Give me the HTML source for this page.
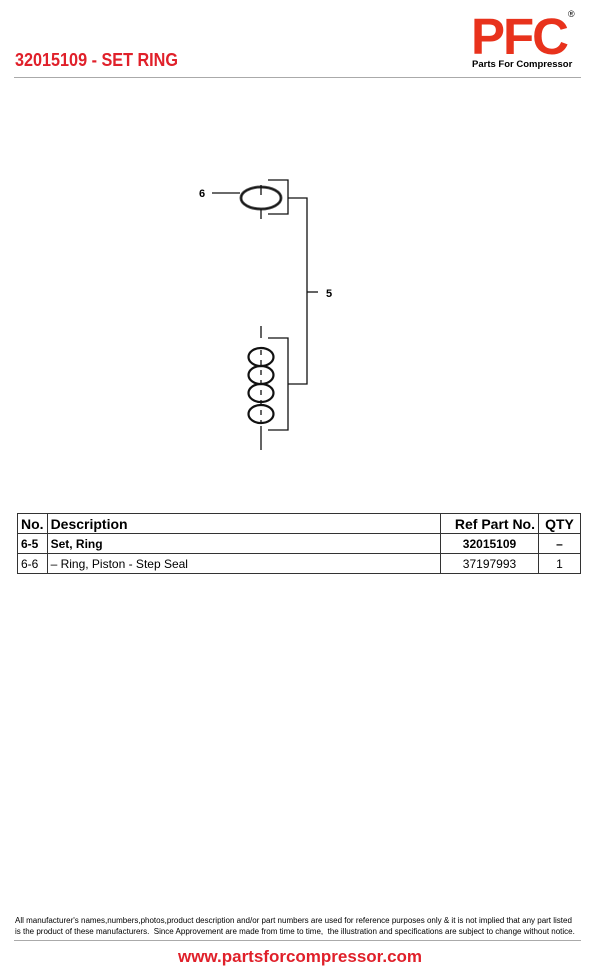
<!DOCTYPE html>
<html><head><style>
body{margin:0;width:600px;height:973px;background:#fff;position:relative;font-family:"Liberation Sans",sans-serif;overflow:hidden}
.a{position:absolute}
table{position:absolute;left:17px;top:513px;width:564px;border-collapse:collapse;font-size:12px}
td{border:1px solid #333;height:19px;padding:0 3px;line-height:18px}
</style></head><body>
<div class="a" style="left:15px;top:50px;color:#e0202a;font-weight:bold;font-size:18px;transform:scaleX(0.9);transform-origin:left">32015109 - SET RING</div>
<div class="a" style="left:471px;top:14px;color:#e8321c;font-weight:900;font-size:51px;line-height:46px;letter-spacing:-2px;">PFC</div>
<div class="a" style="left:568px;top:9px;font-size:9px">®</div>
<div class="a" style="left:472px;top:59px;font-size:9.5px;font-weight:bold">Parts For Compressor</div>
<div class="a" style="left:14px;top:77px;width:567px;height:1px;background:#aaa"></div>
<svg class="a" style="left:0;top:0" width="600" height="500">
<g fill="none" stroke="#111" stroke-width="1.3">
<ellipse cx="261" cy="198" rx="20" ry="11" stroke-width="3" stroke="#555"/>
<ellipse cx="261" cy="198" rx="20" ry="11"/>
<line x1="212" y1="193" x2="240" y2="193"/>
<line x1="261" y1="185" x2="261" y2="195"/><line x1="261" y1="209" x2="261" y2="219"/>
<polyline points="268,180 288,180 288,214 268,214"/>
<polyline points="288,198 307,198 307,384 288,384"/>
<line x1="307" y1="292" x2="318" y2="292"/>
<line x1="261" y1="326" x2="261" y2="338"/><line x1="261" y1="426" x2="261" y2="450"/>
<polyline points="268,338 288,338 288,430 268,430"/>
<g stroke-width="2.2">
<ellipse cx="261" cy="357" rx="12.5" ry="9"/><ellipse cx="261" cy="375" rx="12.5" ry="9"/>
<ellipse cx="261" cy="393" rx="12.5" ry="9"/><ellipse cx="261" cy="414" rx="12.5" ry="9"/>
</g>
<line x1="261" y1="350" x2="261" y2="424" stroke-dasharray="5,5"/>
</g>
<text x="199" y="197" font-size="11" font-weight="bold" font-family="Liberation Sans">6</text>
<text x="326" y="297" font-size="11" font-weight="bold" font-family="Liberation Sans">5</text>
</svg>
<table>
<tr style="font-size:14px;font-weight:bold"><td style="width:22px">No.</td><td>Description</td><td style="width:91px;text-align:right">Ref Part No.</td><td style="width:35px;text-align:center">QTY</td></tr>
<tr style="font-weight:bold"><td>6-5</td><td>Set, Ring</td><td style="text-align:center">32015109</td><td style="text-align:center">–</td></tr>
<tr><td>6-6</td><td>– Ring, Piston - Step Seal</td><td style="text-align:center">37197993</td><td style="text-align:center">1</td></tr>
</table>
<div class="a" style="left:15px;top:915px;font-size:8px;line-height:11px;width:580px;white-space:nowrap">All manufacturer's names,numbers,photos,product description and/or part numbers are used for reference purposes only &amp; it is not implied that any part listed<br>is the product of these manufacturers.&nbsp; Since Approvement are made from time to time,&nbsp; the illustration and specifications are subject to change without notice.</div>
<div class="a" style="left:14px;top:940px;width:567px;height:1px;background:#aaa"></div>
<div class="a" style="left:0;width:600px;top:947px;text-align:center;color:#e0202a;font-weight:bold;font-size:17px">www.partsforcompressor.com</div>
</body></html>
